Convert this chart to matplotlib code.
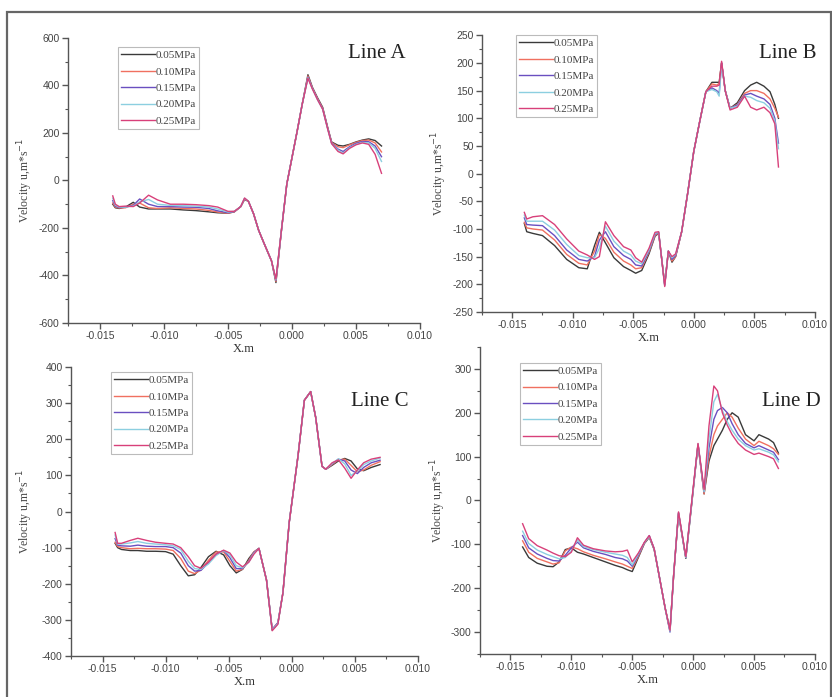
import matplotlib.pyplot as plt
from matplotlib.patches import Rectangle
from matplotlib.ticker import MultipleLocator

plt.rcParams['axes.unicode_minus'] = False

labels = ['0.05MPa', '0.10MPa', '0.15MPa', '0.20MPa', '0.25MPa']
colors = ['#3a3a3a', '#f07060', '#6a4fc0', '#8ccfe0', '#d8407a']

# Line A
xa = [-0.0140, -0.0138, -0.0135, -0.0130, -0.0124, -0.0119, -0.0112, -0.0105, -0.0095, -0.0085,
      -0.0075, -0.0065, -0.0058, -0.0050, -0.0045, -0.0040, -0.0037, -0.0034, -0.0030, -0.0026,
      -0.0022, -0.0016, -0.00125, -0.0008, -0.0004, 0.0000, 0.0004, 0.0008, 0.00125, 0.0016,
      0.0020, 0.0024, 0.0028, 0.0031, 0.0036, 0.0040, 0.0045, 0.0050, 0.0055, 0.0060, 0.0065, 0.0070]
a_005 = [-100, -115, -118, -112, -92, -112, -120, -120, -120, -124, -127, -132, -136, -138, -132, -110,
         -80, -88, -140, -210, -262, -338, -430, -200, -15, 95, 205, 320, 445, 392, 348, 308, 222, 162,
         148, 145, 152, 162, 170, 175, 168, 145]
a_010 = [-95, -112, -116, -115, -100, -95, -115, -118, -115, -118, -120, -126, -133, -138, -132, -110,
         -78, -88, -140, -210, -262, -338, -425, -200, -15, 95, 205, 320, 440, 390, 345, 305, 220, 160,
         142, 138, 150, 160, 168, 170, 158, 120]
a_015 = [-85, -108, -114, -112, -105, -78, -100, -110, -110, -112, -113, -118, -128, -136, -131, -110,
         -76, -88, -140, -210, -262, -338, -420, -200, -15, 95, 205, 320, 435, 388, 342, 302, 218, 158,
         132, 122, 142, 156, 164, 163, 145, 100]
a_020 = [-75, -104, -112, -112, -108, -90, -80, -100, -105, -106, -108, -112, -120, -133, -130, -110,
         -75, -88, -140, -210, -262, -338, -418, -200, -15, 95, 205, 320, 432, 386, 340, 300, 215, 155,
         128, 115, 138, 152, 160, 158, 135, 80]
a_025 = [-65, -100, -110, -108, -110, -95, -62, -82, -100, -100, -102, -106, -112, -130, -130, -110,
         -74, -88, -140, -210, -262, -338, -415, -200, -15, 95, 205, 320, 430, 385, 340, 300, 215, 155,
         122, 112, 135, 150, 158, 152, 110, 30]

# Line B
xb = [-0.0140, -0.0138, -0.0133, -0.0125, -0.0115, -0.0105, -0.0095, -0.0088, -0.0082, -0.0078,
      -0.0073, -0.0066, -0.0058, -0.0052, -0.0048, -0.0043, -0.0037, -0.0032, -0.0029, -0.0024,
      -0.0021, -0.0018, -0.0015, -0.0010, -0.0005, 0.0000, 0.0005, 0.0010, 0.0015, 0.0019,
      0.0021, 0.0023, 0.0026, 0.0030, 0.0036, 0.0042, 0.0047, 0.0052, 0.0058, 0.0063, 0.0067, 0.0070]
b_005 = [-90, -105, -108, -112, -130, -155, -170, -172, -130, -106, -125, -152, -168, -175, -180, -175,
         -145, -113, -108, -200, -140, -160, -150, -105, -35, 40, 95, 148, 165, 165, 165, 200, 150, 118,
         128, 150, 160, 165, 158, 148, 125, 100]
b_010 = [-88, -98, -100, -102, -120, -146, -162, -165, -140, -110, -117, -142, -158, -165, -172, -170,
         -142, -112, -107, -200, -140, -158, -150, -105, -35, 40, 95, 148, 162, 160, 163, 200, 150, 118,
         125, 145, 150, 150, 145, 135, 118, 102]
b_015 = [-80, -92, -93, -94, -112, -138, -155, -158, -150, -120, -105, -132, -148, -155, -165, -167,
         -140, -110, -106, -202, -140, -155, -148, -105, -35, 40, 95, 148, 155, 150, 145, 200, 150, 118,
         124, 142, 145, 140, 135, 125, 100, 55]
b_020 = [-75, -86, -86, -86, -102, -128, -148, -152, -152, -135, -95, -122, -140, -147, -158, -163,
         -138, -108, -106, -202, -140, -152, -146, -105, -35, 40, 95, 148, 152, 148, 140, 198, 150, 118,
         122, 140, 138, 132, 128, 118, 95, 45]
b_025 = [-70, -82, -78, -76, -92, -118, -140, -147, -155, -150, -87, -112, -132, -138, -152, -160,
         -135, -106, -105, -204, -140, -150, -145, -105, -35, 40, 95, 148, 158, 158, 160, 203, 150, 115,
         120, 140, 120, 115, 120, 110, 90, 12]

# Line C
xc = [-0.0140, -0.0138, -0.0135, -0.0128, -0.0122, -0.0115, -0.0108, -0.0100, -0.0094, -0.0088,
      -0.0082, -0.0077, -0.0072, -0.0066, -0.0060, -0.0054, -0.0049, -0.0044, -0.0039, -0.0034,
      -0.0030, -0.0026, -0.0020, -0.00155, -0.0011, -0.0007, -0.0002, 0.0005, 0.0010, 0.0015,
      0.0019, 0.0024, 0.0027, 0.0032, 0.0037, 0.0042, 0.0047, 0.0052, 0.0057, 0.0063, 0.0070]
c_005 = [-88, -100, -105, -108, -108, -110, -110, -111, -118, -150, -178, -175, -155, -125, -110, -120,
         -150, -170, -160, -130, -112, -102, -190, -328, -310, -225, -30, 155, 308, 332, 260, 125, 117,
         128, 140, 147, 140, 118, 113, 122, 130]
c_010 = [-85, -97, -100, -103, -102, -103, -103, -104, -108, -130, -165, -172, -162, -135, -112, -112,
         -138, -165, -160, -135, -112, -102, -190, -326, -308, -225, -30, 155, 308, 332, 260, 125, 117,
         130, 143, 145, 128, 110, 115, 128, 138]
c_015 = [-75, -93, -95, -96, -93, -96, -97, -97, -100, -115, -150, -165, -163, -142, -118, -108,
         -128, -158, -158, -138, -114, -102, -190, -326, -308, -225, -30, 155, 308, 332, 260, 125, 117,
         132, 145, 140, 115, 105, 122, 135, 142]
c_020 = [-65, -90, -90, -87, -83, -88, -90, -92, -95, -105, -138, -158, -160, -145, -122, -108,
         -120, -150, -156, -140, -116, -102, -190, -328, -310, -225, -30, 155, 308, 332, 260, 125, 117,
         133, 146, 132, 100, 112, 130, 140, 148]
c_025 = [-58, -88, -88, -80, -74, -80, -85, -88, -90, -100, -125, -150, -157, -140, -118, -107,
         -115, -140, -153, -140, -118, -102, -190, -330, -312, -225, -30, 155, 308, 332, 260, 125, 117,
         135, 143, 120, 92, 115, 135, 145, 150]

# Line D
xd = [-0.0140, -0.0135, -0.0128, -0.0120, -0.0115, -0.0110, -0.0105, -0.0100, -0.0095, -0.0090,
      -0.0082, -0.0072, -0.0064, -0.0058, -0.0054, -0.0050, -0.0045, -0.0040, -0.0036, -0.0032,
      -0.0028, -0.0023, -0.0019, -0.0016, -0.0012, -0.0006, 0.0000, 0.0004, 0.0009, 0.0013,
      0.0017, 0.0020, 0.0024, 0.0028, 0.0032, 0.0037, 0.0043, 0.0050, 0.0054, 0.0062, 0.0066, 0.0070]
d_005 = [-106, -130, -143, -150, -151, -140, -112, -108, -118, -122, -130, -140, -148, -153, -158, -162,
         -130, -98, -84, -112, -170, -245, -295, -170, -30, -132, 22, 128,
         15, 90, 125, 140, 160, 185, 200, 190, 150, 136, 150, 140, 132, 108]
d_010 = [-92, -118, -132, -140, -145, -142, -115, -106, -110, -117, -125, -133, -140, -145, -150, -155,
         -128, -97, -82, -110, -170, -245, -298, -170, -28, -130, 25, 128,
         15, 100, 150, 170, 185, 200, 190, 165, 140, 125, 135, 125, 118, 105]
d_015 = [-80, -108, -122, -132, -137, -138, -125, -108, -95, -108, -116, -123, -130, -133, -138, -150,
         -125, -96, -80, -110, -170, -245, -300, -170, -28, -130, 25, 128,
         20, 120, 185, 205, 212, 200, 175, 150, 130, 120, 125, 115, 110, 93]
d_020 = [-70, -98, -113, -123, -128, -133, -130, -115, -90, -105, -112, -118, -122, -125, -130, -147,
         -122, -96, -82, -110, -170, -245, -298, -170, -28, -130, 25, 128,
         20, 140, 225, 242, 205, 180, 160, 140, 125, 115, 118, 110, 104, 88]
d_025 = [-53, -87, -103, -113, -120, -126, -128, -118, -85, -102, -110, -115, -117, -116, -113, -140,
         -120, -95, -80, -110, -170, -245, -296, -170, -26, -128, 28, 130,
         25, 170, 261, 250, 200, 172, 150, 130, 115, 105, 108, 100, 95, 73]

panels = [
    ('Line A', xa, [a_005, a_010, a_015, a_020, a_025], [0.0817, 0.5366, 0.423, 0.409],
     (-600, 600), 200, 100, (0.142, 0.968), (0.878, 0.947), -0.094),
    ('Line B', xb, [b_005, b_010, b_015, b_020, b_025], [0.5793, 0.5524, 0.400, 0.397],
     (-250, 250), 50, 25, (0.102, 1.0), (0.919, 0.935), -0.099),
    ('Line C', xc, [c_005, c_010, c_015, c_020, c_025], [0.0853, 0.0588, 0.417, 0.4146],
     (-400, 400), 100, 50, (0.115, 0.983), (0.89, 0.88), -0.104),
    ('Line D', xd, [d_005, d_010, d_015, d_020, d_025], [0.5769, 0.0617, 0.4026, 0.4405],
     (-350, 350), 100, 50, (0.119, 0.948), (0.93, 0.822), -0.096),
]

serif = 'Liberation Serif'
sans = 'Liberation Sans'

fig = plt.figure(figsize=(8.32, 6.97), dpi=100)
fig.patches.append(Rectangle((0.0084, -0.01), 0.99, 0.993, transform=fig.transFigure,
                             fill=False, edgecolor='#666666', linewidth=1.6))

for name, x, ys, rect, ylim, major, minor, leg_pos, title_pos, ylab_x in panels:
    ax = fig.add_axes(rect)
    for y, lab, col in zip(ys, labels, colors):
        ax.plot(x, y, color=col, linewidth=1.0, label=lab)
    ax.set_xlim(-0.0175, 0.010)
    ax.set_ylim(*ylim)
    ax.xaxis.set_minor_locator(MultipleLocator(0.0025))
    ax.yaxis.set_major_locator(MultipleLocator(major))
    ax.yaxis.set_minor_locator(MultipleLocator(minor))
    ax.set_xticks([-0.015, -0.010, -0.005, 0.000, 0.005, 0.010])
    ax.set_xticklabels(['-0.015', '-0.010', '-0.005', '0.000', '0.005', '0.010'])
    for s in ['top', 'right']:
        ax.spines[s].set_visible(False)
    for s in ['left', 'bottom']:
        ax.spines[s].set_color('#555555')
        ax.spines[s].set_linewidth(1.0)
    ax.tick_params(which='major', direction='out', length=4, width=1, color='#555555',
                   labelsize=7.5, labelcolor='#444444', pad=2)
    ax.tick_params(which='minor', direction='out', length=2, width=0.8, color='#555555')
    for t in ax.get_xticklabels() + ax.get_yticklabels():
        t.set_fontfamily(sans)
    ax.set_xlabel('X.m', fontfamily=serif, fontsize=9, color='#333333', labelpad=1)
    ax.set_ylabel('Velocity u,m*s$^{-1}$', fontfamily=serif, fontsize=8.5, color='#444444')
    ax.yaxis.set_label_coords(ylab_x, 0.5)
    ax.text(title_pos[0], title_pos[1], name, transform=ax.transAxes, ha='center', va='center',
            fontfamily=serif, fontsize=15, color='#222222')
    leg = ax.legend(loc='upper left', bbox_to_anchor=leg_pos, frameon=True, fancybox=False,
                    prop={'family': serif, 'size': 8}, handlelength=3.0, handletextpad=0.1,
                    labelspacing=0.6, borderpad=0.3, borderaxespad=0)
    leg.get_frame().set_edgecolor('#aaaaaa')
    leg.get_frame().set_linewidth(0.8)
    for t in leg.get_texts():
        t.set_color('#444444')

plt.savefig('out.png', dpi=100)
